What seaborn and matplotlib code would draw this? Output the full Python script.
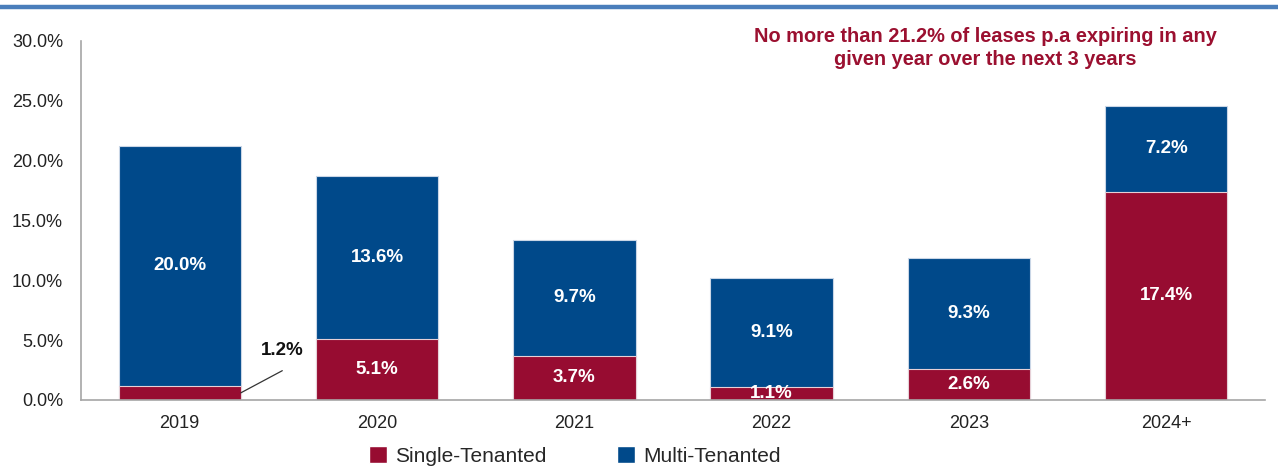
import matplotlib
matplotlib.use("Agg")
import matplotlib.pyplot as plt
from matplotlib.lines import Line2D
from matplotlib.patches import Patch
import seaborn as sns
import pandas as pd
import numpy as np

years = ["2019", "2020", "2021", "2022", "2023", "2024+"]
single_tenanted = [1.2, 5.1, 3.7, 1.1, 2.6, 17.4]
multi_tenanted = [20.0, 13.6, 9.7, 9.1, 9.3, 7.2]
y_ticks = [0, 5, 10, 15, 20, 25, 30]
note_text = "No more than 21.2% of leases p.a expiring in any\ngiven year over the next 3 years"

RED = "#970C31"
BLUE = "#00498A"
NOTE_RED = "#9B1030"

sns.set_theme(style="white")
plt.rcParams["font.family"] = ["Liberation Sans", "DejaVu Sans"]

df = pd.DataFrame({"year": years, "single": single_tenanted, "multi": multi_tenanted})
df["total"] = df["single"] + df["multi"]

fig = plt.figure(figsize=(12.78, 4.68), dpi=100)
ax = fig.add_axes([0.0634, 0.1453, 0.9264, 0.7671])

sns.barplot(data=df, x="year", y="total", color=BLUE, saturation=1, width=0.62,
            edgecolor="#c9d6e6", linewidth=0.8, ax=ax)
sns.barplot(data=df, x="year", y="single", color=RED, saturation=1, width=0.62,
            edgecolor="#e6d0d7", linewidth=0.8, ax=ax)

ax.set_xlim(-0.5, 5.5)
ax.set_ylim(0, 30)
ax.set_yticks(y_ticks)
ax.set_yticklabels([f"{t:.1f}%" for t in y_ticks])
ax.set_xlabel("")
ax.set_ylabel("")
ax.tick_params(axis="both", labelsize=13, colors="#222222", length=0)
ax.tick_params(axis="y", pad=13)
ax.tick_params(axis="x", pad=11)
for s in ["top", "right"]:
    ax.spines[s].set_visible(False)
for s in ["left", "bottom"]:
    ax.spines[s].set_color("#a6a6a6")
    ax.spines[s].set_linewidth(1.2)

LBL = 13.5
for i, (s, m) in enumerate(zip(single_tenanted, multi_tenanted)):
    ax.text(i, s + m / 2, f"{m:.1f}%", ha="center", va="center", color="white",
            fontsize=LBL, fontweight="bold")
    if i == 0:
        ax.annotate("", xy=(i + 0.31, s / 2), xytext=(i + 0.52, 2.45),
                    arrowprops=dict(arrowstyle="-", color="#333333", lw=0.9,
                                    shrinkA=0, shrinkB=0))
        ax.text(i + 0.52, 4.15, f"{s:.1f}%", ha="center", va="center",
                fontsize=LBL, fontweight="bold", color="#111111")
    else:
        ax.text(i, s / 2, f"{s:.1f}%", ha="center", va="center", color="white",
                fontsize=LBL, fontweight="bold")

fig.text(0.7707, 0.8975, note_text, ha="center", va="center", color=NOTE_RED,
         fontsize=14.4, fontweight="bold", linespacing=1.3)

fig.add_artist(Line2D([0, 1], [0.984, 0.984], transform=fig.transFigure,
                      color="#4A7EBB", lw=3.2))

handles = [Patch(facecolor=RED, label="Single-Tenanted"),
           Patch(facecolor=BLUE, label="Multi-Tenanted")]
fig.legend(handles=handles, loc="center", bbox_to_anchor=(0.45, 0.026), ncol=2,
           frameon=False, fontsize=15, handlelength=0.85, handleheight=0.85,
           handletextpad=0.4, columnspacing=3.4)

fig.savefig("out.png", dpi=100)
